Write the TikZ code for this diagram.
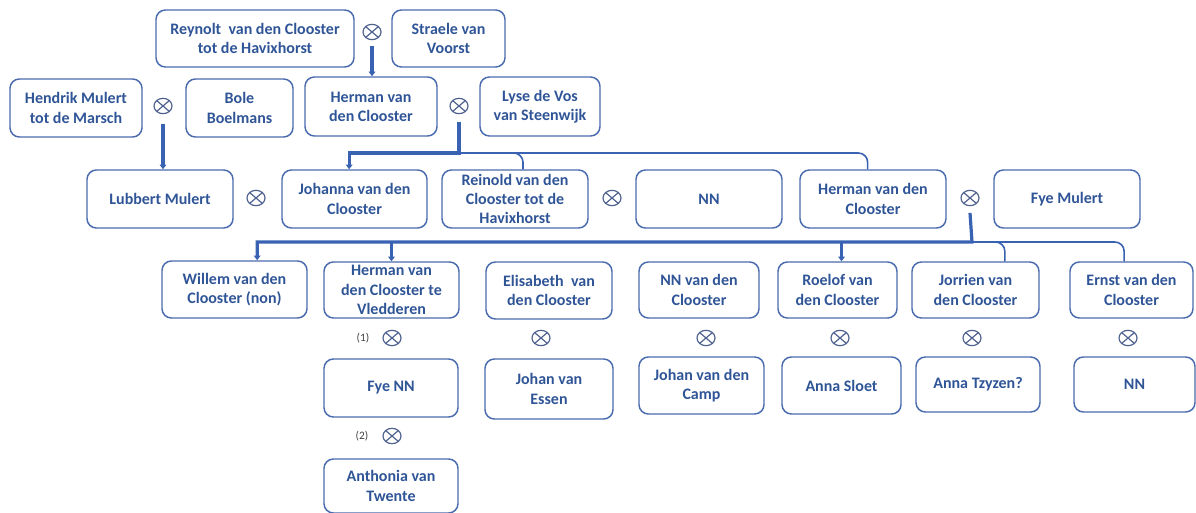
\documentclass[tikz,border=0pt]{standalone}
\usepackage{fontspec}
\setmainfont{Carlito}
\usetikzlibrary{shapes.geometric,arrows.meta}
\definecolor{boxc}{HTML}{4A6CAE}
\definecolor{txtc}{HTML}{2F5597}
\definecolor{linec}{HTML}{3A62B3}
\definecolor{symc}{HTML}{4F628F}
\newcommand{\famnode}[6]{\node[box, minimum width={(#4-#2)*0.75pt}, minimum height={(#5-#3)*0.75pt}] (#1) at ({(#2+#4)/2},{(#3+#5)/2}) {#6};}
\tikzset{
 box/.style={draw=boxc, line width=1.1pt, rounded corners=7pt, text=txtc, font=\bfseries\fontsize{12}{14.4}\selectfont, align=center, inner sep=1pt},
 marr/.style={ellipse, draw=symc, line width=0.9pt, minimum width=13.5pt, minimum height=11.5pt, inner sep=0pt,
   path picture={\draw[symc, line width=0.9pt] (path picture bounding box.north west) -- (path picture bounding box.south east) (path picture bounding box.south west) -- (path picture bounding box.north east);}},
 thickl/.style={draw=linec, line width=2.4pt},
 thinl/.style={draw=linec, line width=1.2pt, rounded corners=7pt},
 arr/.style={-{Triangle[width=5pt,length=3.5pt]}},
 num/.style={font=\fontsize{8.5}{10}\selectfont, text=black!75, inner sep=0pt},
}
\begin{document}
\begin{tikzpicture}[x=0.75pt, y=-0.75pt]
\useasboundingbox (0,0) rectangle (1196,513);
% row 0
\famnode{reyn}{156}{10}{354}{67}{Reynolt~ van den Clooster\\tot de Havixhorst}
\famnode{strl}{392}{10}{505}{67}{Straele van\\Voorst}
\node[marr] (m1) at (372,32) {};
% row 1
\famnode{hend}{10}{79}{142}{137}{Hendrik Mulert\\tot de Marsch}
\famnode{bole}{186}{79}{293}{137}{Bole\\Boelmans}
\famnode{herma}{305}{77}{437}{136}{Herman van\\den Clooster}
\famnode{lyse}{480}{77}{600}{136}{Lyse de Vos\\van Steenwijk}
\node[marr] (m2) at (163,106) {};
\node[marr] (m3) at (459,106) {};
% row 2
\famnode{lub}{87}{170}{233}{228}{Lubbert Mulert}
\famnode{joh}{282}{170}{427}{228}{Johanna van den\\Clooster}
\famnode{rein}{442}{170}{588}{228}{Reinold van den\\Clooster tot de\\Havixhorst}
\famnode{nna}{636}{170}{782}{228}{NN}
\famnode{hermb}{800}{170}{946}{228}{Herman van den\\Clooster}
\famnode{fye}{994}{170}{1140}{228}{Fye Mulert}
\node[marr] (m4) at (256,198) {};
\node[marr] (m5) at (612,198) {};
\node[marr] (m6) at (970,198) {};
% row 3
\famnode{wil}{162}{261}{307}{318}{Willem van den\\Clooster (non)}
\famnode{hv}{324}{262}{459}{318}{Herman van\\den Clooster te\\Vledderen}
\famnode{eli}{486}{262}{612}{319}{Elisabeth~ van\\den Clooster}
\famnode{nnc}{639}{262}{759}{318}{NN van den\\Clooster}
\famnode{roe}{778}{262}{897}{318}{Roelof van\\den Clooster}
\famnode{jor}{912}{262}{1039}{318}{Jorrien van\\den Clooster}
\famnode{ern}{1070}{262}{1193}{318}{Ernst van den\\Clooster}
% marriage symbols row 3
\node[marr] (m7) at (392,338) {};
\node[num] (n1) at (363,338) {(1)};
\node[marr] (m8) at (541,338) {};
\node[marr] (m9) at (706,338) {};
\node[marr] (m10) at (840,338) {};
\node[marr] (m11) at (972,338) {};
\node[marr] (m12) at (1128,338) {};
% row 4
\famnode{fyenn}{324}{359}{458}{417}{Fye NN}
\famnode{jve}{485}{359}{613}{419}{Johan van\\Essen}
\famnode{jvc}{639}{357}{764}{414}{Johan van den\\Camp}
\famnode{ans}{782}{357}{901}{414}{Anna Sloet}
\famnode{ant}{916}{357}{1040}{412}{Anna Tzyzen?}
\famnode{nnb}{1074}{357}{1195}{412}{NN}
\node[marr] (m13) at (392,436) {};
\node[num] (n2) at (362,436) {(2)};
\famnode{anth}{324}{459}{458}{513}{Anthonia van\\Twente}
% connectors
\draw[thickl, arr] ([yshift=-4pt]m1.south) -- (m1 |- herma.north);
\draw[thickl, arr] ([yshift=-7pt]m2.south) -- (m2 |- lub.north);
\coordinate (b1) at (459,153);
\draw[thinl] (b1) -| ([xshift=6pt]rein.north);
\draw[thinl] (b1) -| ([xshift=-4pt]hermb.north);
\draw[thickl, arr] ([yshift=-6pt]m3.south) -- (b1) -| ([xshift=-4pt]joh.north);
\coordinate (b2) at (972,242);
\draw[thinl] (b2) -| ([xshift=22pt]jor.north);
\draw[thinl] (b2) -| ([xshift=-5.5pt]ern.north);
\draw[thickl, arr] ([yshift=-5pt]m6.south) -- (b2) -| ([xshift=17pt]wil.north);
\draw[thickl, arr] (hv.north |- b2) -- (hv.north);
\draw[thickl, arr] ([xshift=3pt]roe.north |- b2) -- ([xshift=3pt]roe.north);
\end{tikzpicture}
\end{document}
